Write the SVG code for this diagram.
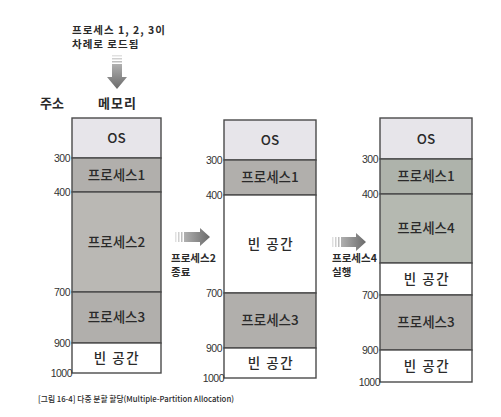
<svg xmlns="http://www.w3.org/2000/svg" width="501" height="417" viewBox="0 0 501 417">
<defs>
<linearGradient id="gh" x1="0" y1="0" x2="1" y2="0"><stop offset="0" stop-color="#b0b0b0"/><stop offset="1" stop-color="#6a6a6a"/></linearGradient>
<linearGradient id="gv" x1="0" y1="0" x2="0" y2="1"><stop offset="0" stop-color="#b0b0b0"/><stop offset="1" stop-color="#6a6a6a"/></linearGradient>
</defs>
<style>
text{font-family:"Noto Sans CJK KR","Liberation Sans",sans-serif;fill:#2a2a2a}
.b{font-size:13.5px;font-weight:500;text-anchor:middle}
.w{letter-spacing:1.5px}
.n{font-size:10.5px;font-family:"Liberation Sans","Noto Sans CJK KR",sans-serif;text-anchor:end;letter-spacing:-0.5px;fill:#333}
.h{font-size:13px;font-weight:700}
.s{font-size:10.5px;font-weight:700}
.box{stroke:#4a4a4a;stroke-width:1.4}
.os{fill:#e7e5ea}
.p{fill:#b1afac}
.p2{fill:#bab8b4}
.g{fill:#aeb3ab}
.g2{fill:#b5b9b1}
.e{fill:#ffffff}
</style>
<rect width="501" height="417" fill="#ffffff"/>
<g id="title">
<text class="s" x="72" y="34" letter-spacing="1">프로세스 1, 2, 3이</text>
<text class="s" x="72" y="48" letter-spacing="1">차례로 로드됨</text>
<text class="h" x="40" y="108">주소</text>
<text class="h" x="98" y="108" letter-spacing="1">메모리</text>
</g>
<g id="connectors">
<g id="load-arrow">
<rect x="112" y="55" width="10" height="1.5" fill="#888" opacity="0.25"/>
<rect x="112" y="58" width="10" height="1.5" fill="#888" opacity="0.4"/>
<rect x="112" y="61" width="10" height="1.5" fill="#888" opacity="0.55"/>
<path d="M112,64 H122 V77 H127 L117,89 L107,77 H112 Z" fill="url(#gv)"/>
</g>
<g id="arrow1">
<rect x="175" y="232" width="1.5" height="10" fill="#888" opacity="0.25"/>
<rect x="178" y="232" width="1.5" height="10" fill="#888" opacity="0.4"/>
<rect x="181" y="232" width="1.5" height="10" fill="#888" opacity="0.55"/>
<path d="M184,232 H200 V228 L210,237 L200,246 V242 H184 Z" fill="url(#gh)"/>
</g>
<g id="arrow2">
<rect x="332" y="237" width="1.5" height="10" fill="#888" opacity="0.25"/>
<rect x="335" y="237" width="1.5" height="10" fill="#888" opacity="0.4"/>
<rect x="338" y="237" width="1.5" height="10" fill="#888" opacity="0.55"/>
<path d="M341,237 H356 V233 L366,242 L356,251 V247 H341 Z" fill="url(#gh)"/>
</g>
<text class="s" x="171" y="262">프로세스2</text>
<text class="s" x="171" y="276">종료</text>
<text class="s" x="332" y="262">프로세스4</text>
<text class="s" x="332" y="276">실행</text>
</g>
<g id="memory1">
<rect class="box os" x="72" y="118" width="89" height="40"/>
<rect class="box p" x="72" y="158" width="89" height="34"/>
<rect class="box p2" x="72" y="192" width="89" height="100"/>
<rect class="box p" x="72" y="292" width="89" height="51"/>
<rect class="box e" x="72" y="343" width="89" height="30"/>
<text class="b" x="116.5" y="143">OS</text>
<text class="b" x="116.5" y="180">프로세스1</text>
<text class="b" x="116.5" y="247">프로세스2</text>
<text class="b" x="116.5" y="322">프로세스3</text>
<text class="b w" x="117" y="363">빈 공간</text>
<text class="n" x="70" y="162">300</text>
<text class="n" x="70" y="196">400</text>
<text class="n" x="70" y="296">700</text>
<text class="n" x="70" y="347">900</text>
<text class="n" x="72" y="377">1000</text>
</g>
<g id="memory2">
<rect class="box os" x="224" y="120" width="92" height="40"/>
<rect class="box p" x="224" y="160" width="92" height="35"/>
<rect class="box e" x="224" y="195" width="92" height="98"/>
<rect class="box p" x="224" y="293" width="92" height="55"/>
<rect class="box e" x="224" y="348" width="92" height="30"/>
<text class="b" x="270" y="145">OS</text>
<text class="b" x="270" y="182">프로세스1</text>
<text class="b w" x="271" y="249">빈 공간</text>
<text class="b" x="270" y="325">프로세스3</text>
<text class="b w" x="271" y="368">빈 공간</text>
<text class="n" x="222" y="164">300</text>
<text class="n" x="222" y="199">400</text>
<text class="n" x="222" y="297">700</text>
<text class="n" x="222" y="352">900</text>
<text class="n" x="224" y="382">1000</text>
</g>
<g id="memory3">
<rect class="box os" x="380" y="118" width="92" height="41"/>
<rect class="box g" x="380" y="159" width="92" height="35"/>
<rect class="box g2" x="380" y="194" width="92" height="69"/>
<rect class="box e" x="380" y="263" width="92" height="32"/>
<rect class="box p" x="380" y="295" width="92" height="55"/>
<rect class="box e" x="380" y="350" width="92" height="32"/>
<text class="b" x="426" y="144">OS</text>
<text class="b" x="426" y="181">프로세스1</text>
<text class="b" x="426" y="233">프로세스4</text>
<text class="b w" x="427" y="284">빈 공간</text>
<text class="b" x="426" y="327">프로세스3</text>
<text class="b w" x="427" y="371">빈 공간</text>
<text class="n" x="378" y="163">300</text>
<text class="n" x="378" y="198">400</text>
<text class="n" x="378" y="299">700</text>
<text class="n" x="378" y="354">900</text>
<text class="n" x="380" y="386">1000</text>
</g>
<g id="caption">
<text x="38" y="402" font-size="8" font-weight="500" textLength="196" lengthAdjust="spacingAndGlyphs" fill="#333">[그림 16-4] 다중 분할 할당(Multiple-Partition Allocation)</text>
</g>
</svg>
